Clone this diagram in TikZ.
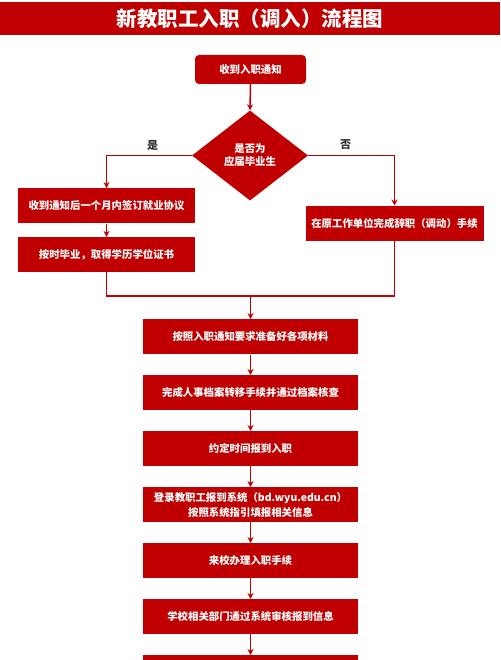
\documentclass[tikz,border=0pt]{standalone}
\usepackage{fontspec}
\setmainfont{Noto Sans CJK SC}
\usetikzlibrary{shapes.geometric,arrows.meta}
\definecolor{cred}{HTML}{C00000}
\definecolor{lab}{HTML}{333333}
\tikzset{
  box/.style={fill=cred,text=white,font=\fontsize{10.4}{15}\selectfont\bfseries,minimum height=35pt,inner sep=0pt,align=center},
  mainbox/.style={box,minimum width=215pt},
  sidebox/.style={box,minimum width=177pt},
  conn/.style={draw=cred,line width=1.5pt},
  arr/.style={conn,-{Stealth[length=6pt,width=6pt]}},
  ylab/.style={text=lab,font=\fontsize{11}{13}\selectfont\bfseries}
}
\begin{document}
\begin{tikzpicture}[x=1pt,y=-1pt]
\useasboundingbox (0,0) rectangle (500,660);
\clip (0,0) rectangle (500,660);
\fill[cred] (0,2) rectangle (500,35);
\node[text=white,font=\fontsize{20.5}{24}\selectfont\bfseries] (title) at (250,18.5) {新教职工入职（调入）流程图};
\node[box,minimum width=111pt,minimum height=29pt,rounded corners=4pt] (start) at (250.5,69.5) {收到入职通知};
\node[diamond,fill=cred,text=white,font=\fontsize{10.4}{13}\selectfont\bfseries,minimum width=116pt,minimum height=90pt,inner sep=0pt,align=center] (dec) at (250,155.5) {是否为\\应届毕业生};
\node[sidebox] (l1) at (106.5,205.8) {收到通知后一个月内签订就业协议};
\node[sidebox] (l2) at (106.5,254.5) {按时毕业，取得学历学位证书};
\node[sidebox,minimum width=178pt] (r1) at (394.5,223.2) {在原工作单位完成辞职（调动）手续};
\coordinate (m) at (250.5,296);
\node[mainbox] (b1) at (250.5,336.8) {按照入职通知要求准备好各项材料};
\node[mainbox] (b2) at (250.5,392.7) {完成人事档案转移手续并通过档案核查};
\node[mainbox] (b3) at (250.5,448.7) {约定时间报到入职};
\node[mainbox] (b4) at (250.5,504.7) {登录教职工报到系统（bd.wyu.edu.cn）\\按照系统指引填报相关信息};
\node[mainbox] (b5) at (250.5,560.7) {来校办理入职手续};
\node[mainbox] (b6) at (250.5,616.7) {学校相关部门通过系统审核报到信息};
\node[mainbox] (b7) at (250.5,672.7) {};
\node[ylab] (yes) at (152.5,145) {是};
\node[ylab] (no) at (345.5,145) {否};
\draw[arr] (start.south) -- (dec.north);
\draw[arr] (dec.west) -| (l1.north);
\draw[arr] (dec.east) -| (r1.north);
\draw[arr] (l1.south) -- (l2.north);
\draw[conn] (l2.south) |- (m) -| (r1.south);
\draw[arr] (m) -- (b1.north);
\draw[arr] (b1.south) -- (b2.north);
\draw[arr] (b2.south) -- (b3.north);
\draw[arr] (b3.south) -- (b4.north);
\draw[arr] (b4.south) -- (b5.north);
\draw[arr] (b5.south) -- (b6.north);
\draw[arr] (b6.south) -- (b7.north);
\end{tikzpicture}
\end{document}
